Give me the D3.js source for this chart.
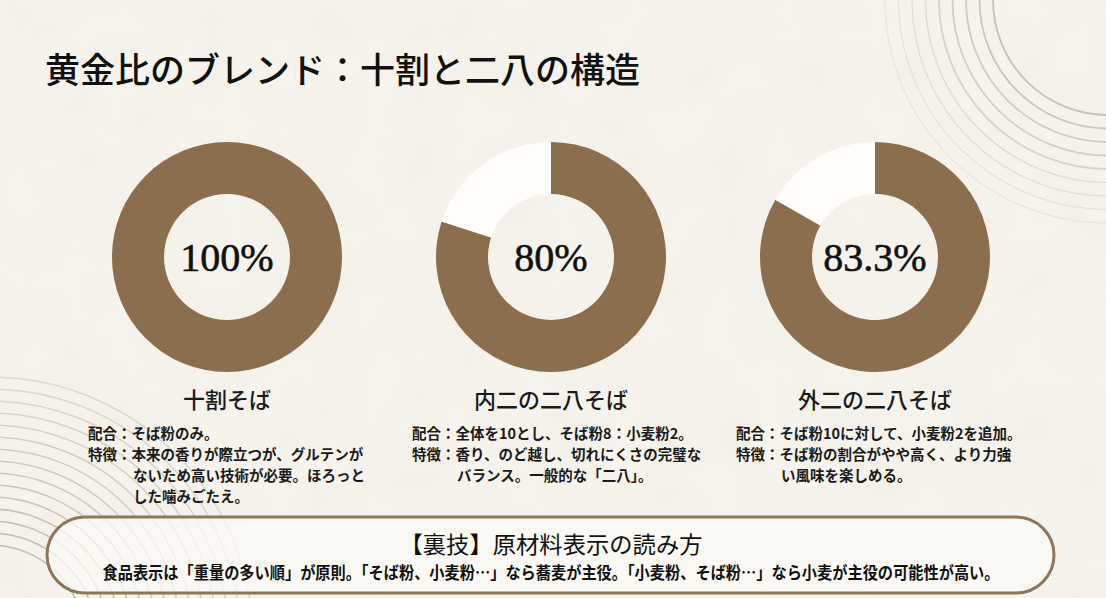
<!DOCTYPE html>
<html lang="ja">
<head>
<meta charset="utf-8">
<script src="https://cdn.jsdelivr.net/npm/d3@7"></script>
<style>
html,body{margin:0;padding:0;background:#f5f2eb;}
svg{display:block;}
</style>
</head>
<body>
<svg id="chart" width="1106" height="598"></svg>
<script>
// ---- data ----
const titleText = "黄金比のブレンド：十割と二八の構造";
const categories = ["十割そば", "内二の二八そば", "外二の二八そば"];
const sobaShare = [100, 80, 83.3];
const otherShare = [0, 20, 16.7];
const centerLabels = ["100%", "80%", "83.3%"];
const blendLines = ["そば粉のみ。", "全体を10とし、そば粉8：小麦粉2。", "そば粉10に対して、小麦粉2を追加。"];
const featureLines = [
  ["本来の香りが際立つが、グルテンが", "ないため高い技術が必要。ほろっと", "した噛みごたえ。"],
  ["香り、のど越し、切れにくさの完璧な", "バランス。一般的な「二八」。"],
  ["そば粉の割合がやや高く、より力強", "い風味を楽しめる。"]
];
const tipTitle = "【裏技】原材料表示の読み方";
const tipBody = "食品表示は「重量の多い順」が原則。「そば粉、小麦粉…」なら蕎麦が主役。「小麦粉、そば粉…」なら小麦が主役の可能性が高い。";

// ---- setup ----
const W = 1106, H = 598;
const svg = d3.select("#chart");
const sans = "'Noto Sans CJK JP', 'Noto Sans', sans-serif";
const serif = "'Liberation Serif', 'DejaVu Serif', serif";

// background + subtle paper texture
const defs = svg.append("defs");
const f = defs.append("filter").attr("id", "paper").attr("x", 0).attr("y", 0).attr("width", "100%").attr("height", "100%");
f.append("feTurbulence").attr("type", "fractalNoise").attr("baseFrequency", 0.02).attr("numOctaves", 3).attr("seed", 4).attr("result", "n");
f.append("feColorMatrix").attr("type", "matrix")
  .attr("values", "0 0 0 0 0.6  0 0 0 0 0.55  0 0 0 0 0.47  0 0 0 -0.9 0.55");
svg.append("rect").attr("width", W).attr("height", H).attr("fill", "#f6f3ec");
svg.append("rect").attr("width", W).attr("height", H).attr("filter", "url(#paper)").attr("opacity", 0.14);

// decorative concentric arcs
const trRadii = d3.range(9).map(i => 115 + i * 13.5);
svg.append("g").selectAll("circle").data(trRadii).join("circle")
  .attr("cx", 1108).attr("cy", 0).attr("r", d => d)
  .attr("fill", "none")
  .attr("stroke", (d, i) => d3.interpolateRgb("#c7c0b4", "#e9e4da")(i / 8))
  .attr("stroke-width", (d, i) => i < 5 ? 1.8 : 1.2);

const blRadii = d3.range(15).map(i => 95 + i * 12);
svg.append("g").selectAll("circle").data(blRadii).join("circle")
  .attr("cx", -10).attr("cy", 640).attr("r", d => d)
  .attr("fill", "none")
  .attr("stroke", (d, i) => d3.interpolateRgb("#c2bbae", "#ddd7cb")(i / 14))
  .attr("stroke-width", 1.5);

// title
svg.append("text").attr("x", 45).attr("y", 83)
  .attr("font-family", sans).attr("font-size", 35).attr("font-weight", 500)
  .attr("fill", "#111").text(titleText);

// donuts
const xScale = d3.scalePoint().domain(categories).range([227, 875]);
const cy = 257;
const pie = d3.pie().sort(null).value(d => d.v);
const arc = d3.arc().innerRadius(63).outerRadius(115);
const colors = { soba: "#8b6e4e", other: "#fefdfa" };

categories.forEach((cat, i) => {
  const cx = xScale(cat);
  const g = svg.append("g").attr("transform", `translate(${cx},${cy})`);
  const parts = [{ k: "soba", v: sobaShare[i] }, { k: "other", v: otherShare[i] }];
  g.selectAll("path").data(pie(parts)).join("path")
    .attr("d", arc).attr("fill", d => colors[d.data.k]);
  g.append("text").attr("text-anchor", "middle").attr("y", 14)
    .attr("font-family", serif).attr("font-size", 40).attr("fill", "#111")
    .attr("stroke", "#111").attr("stroke-width", 0.6)
    .text(centerLabels[i]);

  svg.append("text").attr("x", cx).attr("y", 408).attr("text-anchor", "middle")
    .attr("font-family", sans).attr("font-size", 22).attr("font-weight", 500).attr("fill", "#1a1a1a")
    .text(cat);

  const x0 = cx - 139;
  const fs = 14.5;
  const t = svg.append("g").attr("font-family", sans).attr("font-size", fs).attr("font-weight", 700).attr("fill", "#1a1a1a");
  t.append("text").attr("x", x0).attr("y", 439).text("配合：" + blendLines[i]);
  featureLines[i].forEach((line, j) => {
    t.append("text").attr("x", j === 0 ? x0 : x0 + 45).attr("y", 460 + j * 21)
      .text(j === 0 ? "特徴：" + line : line);
  });
});

// tip box
const box = svg.append("g");
box.append("rect").attr("x", 47).attr("y", 517).attr("width", 1007).attr("height", 76)
  .attr("rx", 38).attr("ry", 38)
  .attr("fill", "#fbf9f4").attr("fill-opacity", 0.75)
  .attr("stroke", "#8d7658").attr("stroke-width", 3);
box.append("text").attr("x", 551).attr("y", 553).attr("text-anchor", "middle")
  .attr("font-family", sans).attr("font-size", 23).attr("font-weight", 400).attr("fill", "#111")
  .attr("textLength", 303).attr("lengthAdjust", "spacingAndGlyphs")
  .text(tipTitle);
box.append("text").attr("x", 551).attr("y", 579).attr("text-anchor", "middle")
  .attr("font-family", sans).attr("font-size", 16.5).attr("font-weight", 700).attr("fill", "#111")
  .attr("textLength", 897).attr("lengthAdjust", "spacingAndGlyphs")
  .text(tipBody);
</script>
</body>
</html>
